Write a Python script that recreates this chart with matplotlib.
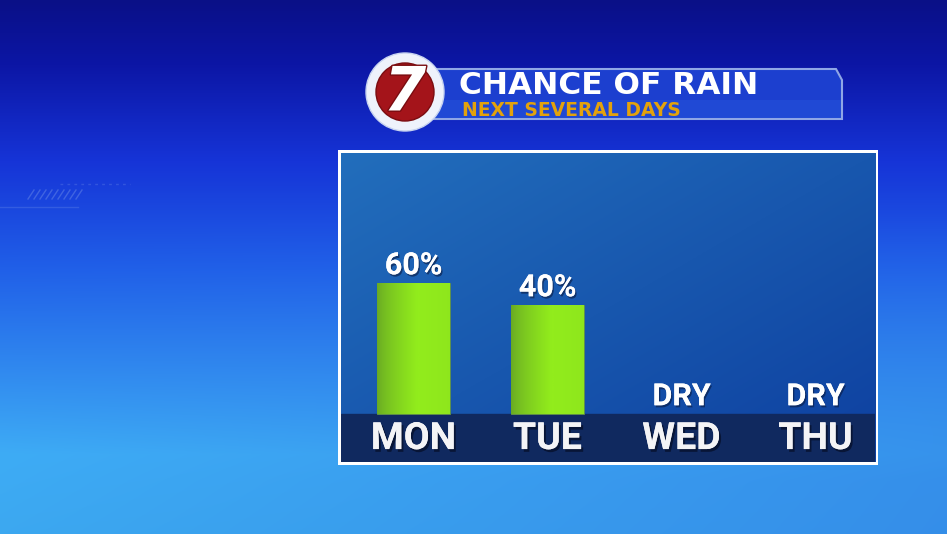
import numpy as np
import matplotlib
matplotlib.use("Agg")
import matplotlib.pyplot as plt
import matplotlib.patheffects as pe
from matplotlib.patches import Rectangle, Circle, Polygon

# data
days = ["MON", "TUE", "WED", "THU"]
rain_chance = [60, 40, 0, 0]
bar_labels = ["60%", "40%", "DRY", "DRY"]
title = "CHANCE OF RAIN"
subtitle = "NEXT SEVERAL DAYS"

W, H = 947, 534
NARROW = ["Liberation Sans Narrow", "Roboto", "DejaVu Sans"]

fig = plt.figure(figsize=(W / 100, H / 100), dpi=100)

# background gradient over the whole figure
bg = fig.add_axes([0, 0, 1, 1])
bg.set_axis_off()
yy, xx = np.mgrid[0:H, 0:W]
t = (yy / H)[..., None]
dx = (xx / W)[..., None]
stops = [0.0, 0.12, 0.3, 0.5, 0.85, 1.0]
cols = np.array([[10, 16, 135], [12, 22, 165], [22, 52, 215],
                 [32, 95, 232], [62, 172, 245], [60, 168, 240]]) / 255
img = np.zeros((H, W, 3))
for c in range(3):
    img[..., c] = np.interp(yy / H, stops, cols[:, c])
# slightly deeper blue toward the right on the lower half
k = np.clip((t - 0.4) / 0.5, 0, 1)
right = np.array([48, 125, 228]) / 255
img = img * (1 - 0.6 * dx * k) + right * (0.6 * dx * k)
bg.imshow(np.clip(img, 0, 1), extent=[0, W, H, 0], aspect="auto")
bg.set_xlim(0, W)
bg.set_ylim(H, 0)

# faint decoration on the left
for i in range(9):
    bg.plot([28 + 6 * i, 34 + 6 * i], [199, 190], color="#6f8fe8", alpha=0.45, lw=1)
bg.plot([60, 130], [184, 184], color="#6f8fe8", alpha=0.3, lw=1, ls=(0, (2, 3)))
bg.plot([0, 78], [207, 207], color="#6f8fe8", alpha=0.3, lw=1)

# white frame around panel
bg.add_patch(Rectangle((338, 150), 540, 315, facecolor="white", edgecolor="none"))

# title banner
banner = Polygon([(430, 69), (836, 69), (842, 80), (842, 119), (430, 119)],
                 closed=True, facecolor="#1c3fcf", edgecolor="#8fa6e6", linewidth=1.5)
bg.add_patch(banner)
bg.add_patch(Rectangle((431, 100), 410, 18, facecolor="#2454dc", edgecolor="none", alpha=0.5))
bg.text(459, 94.5, title, color="white", fontsize=22.5, fontweight="bold",
        family="DejaVu Sans", va="baseline", ha="left")
bg.text(462, 115.5, subtitle, color="#e3a20c", fontsize=13.5, fontweight="bold",
        family="DejaVu Sans", va="baseline", ha="left")

# logo
bg.add_patch(Circle((405, 92), 39, facecolor="#eef2fb", edgecolor="#c7d3f0", linewidth=1))
bg.add_patch(Circle((405, 92), 29, facecolor="#a4141a", edgecolor="#7a0c10", linewidth=1))
bg.text(405, 94, "7", color="white", fontsize=44, fontweight="bold", style="italic",
        family="DejaVu Sans", ha="center", va="center",
        path_effects=[pe.withStroke(linewidth=2, foreground="#7a0c10")])

# chart panel
px0, px1, py0, py1 = 341, 875, 153, 462
ax = fig.add_axes([px0 / W, 1 - py1 / H, (px1 - px0) / W, (py1 - py0) / H])
ax.set_axis_off()

slot = 134.0
x0 = -(413.5 - px0) / slot
ax.set_xlim(x0, x0 + (px1 - px0) / slot)
ppu = 1.1  # pixels per percent
floor = 60 - (414 - 283) / ppu
ybot = floor - (py1 - 414) / ppu
ytop = 60 + (283 - py0) / ppu
ax.set_ylim(ybot, ytop)

# panel gradient
gy, gx = np.mgrid[0:1:200j, 0:1:300j]
g = (0.5 * gx + 0.5 * gy)[..., None]
c1 = np.array([34, 110, 188]) / 255
c2 = np.array([14, 64, 160]) / 255
pimg = c1 * (1 - g) + c2 * g
ax.imshow(pimg, extent=[ax.get_xlim()[0], ax.get_xlim()[1], ybot, ytop],
          aspect="auto", origin="upper", zorder=0)

# label band
ax.axhspan(ybot, floor, color="#10295f", zorder=1)

x = np.arange(len(days))
vals = np.array(rain_chance, dtype=float)
wet = vals > 0
bars = ax.bar(x[wet], vals[wet] - floor, bottom=floor, width=0.54,
              color="#8ee11c", edgecolor="#5f8f4a", linewidth=0.6, zorder=2)

# horizontal shading on the bars
grad = np.linspace(0, 1, 100)
shade = np.clip(grad / 0.55, 0, 1) ** 0.7
shade = np.where(grad > 0.6, 1 - 0.08 * (grad - 0.6) / 0.4, shade)
gc1 = np.array([104, 168, 36]) / 255
gc2 = np.array([146, 236, 28]) / 255
bar_img = (gc1 * (1 - shade[:, None]) + gc2 * shade[:, None])[None, :, :]
for b, v in zip(bars, vals[wet]):
    im = ax.imshow(bar_img, extent=[b.get_x(), b.get_x() + b.get_width(), floor, v],
                   aspect="auto", zorder=3)
    im.set_clip_path(b)

shadow = [pe.withSimplePatchShadow(offset=(1, -1.5), shadow_rgbFace="#0a1a40", alpha=0.6),
          pe.Normal()]

for xi, v, lab in zip(x, vals, bar_labels):
    ypos = v if v > 0 else floor
    ax.text(xi, ypos + 2.5, lab, color="white", fontsize=22, fontweight="bold",
            family=NARROW, ha="center", va="bottom", zorder=4, path_effects=shadow)

for xi, d in zip(x, days):
    ax.text(xi, (ybot + floor) / 2 - 0.5, d, color="#f4f4f6", fontsize=27, fontweight="bold",
            family=NARROW, ha="center", va="center", zorder=4,
            path_effects=[pe.withSimplePatchShadow(offset=(1.5, -2), shadow_rgbFace="#050d25", alpha=0.7),
                          pe.Normal()])

fig.savefig("out.png", dpi=100)
